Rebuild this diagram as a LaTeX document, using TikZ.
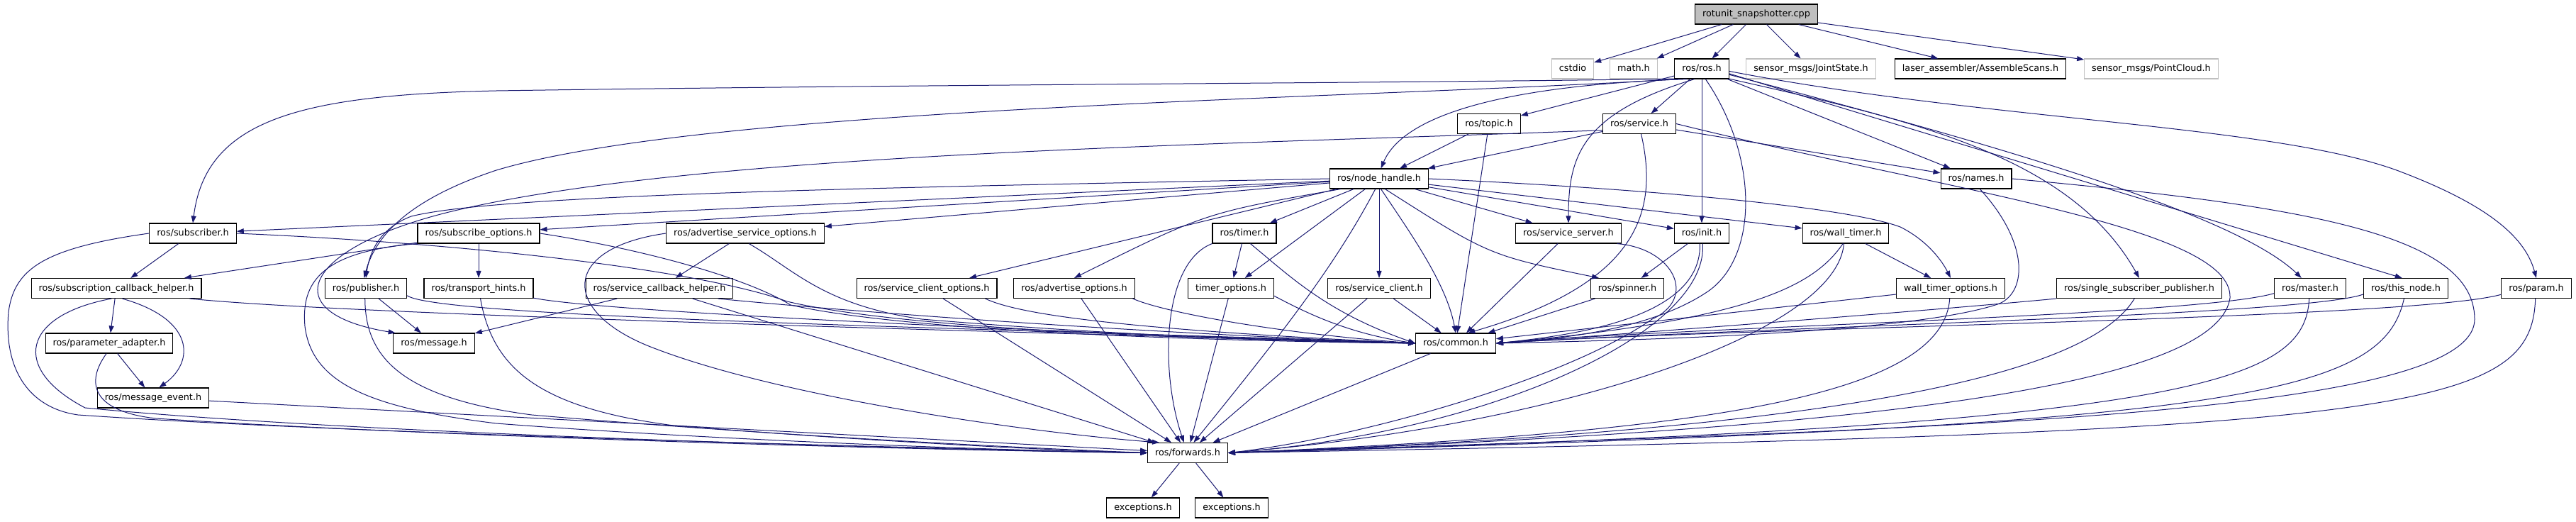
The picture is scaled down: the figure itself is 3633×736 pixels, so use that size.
\documentclass[tikz,border=0pt]{standalone}
\usepackage{fontspec}
\newfontfamily\dvfont{DejaVu Sans}
\usetikzlibrary{arrows.meta}
\definecolor{edgec}{HTML}{191970}
\definecolor{grayb}{HTML}{BFBFBF}
\newcommand{\dvf}{\dvfont\fontsize{12.8}{14}\selectfont}
\tikzset{
  nb/.style={draw=black, line width=1.1pt, fill=white, minimum height=28pt, inner xsep=10.5pt, inner ysep=0pt, text height=9.8pt, text depth=2.6pt, font=\dvf},
  gb/.style={nb, draw=grayb},
  rb/.style={nb, fill=grayb},
  e/.style={draw=edgec, line width=1pt, -{Triangle[length=10pt,width=7pt]}},
}
\begin{document}
\begin{tikzpicture}[x=1pt,y=-1pt]
\useasboundingbox (0,0) rectangle (3633,736);
% rank 0
\node[rb] (root) at (2477,20) {rotunit\_snapshotter.cpp};
% rank 1
\node[gb] (cstdio) at (2218,97) {cstdio};
\node[gb] (mathh) at (2304,97) {math.h};
\node[nb] (ros) at (2400,97) {ros/ros.h};
\node[gb] (joint) at (2554,97) {sensor\_msgs/JointState.h};
\node[nb] (laser) at (2793,97) {laser\_assembler/AssembleScans.h};
\node[gb] (pcl) at (3034,97) {sensor\_msgs/PointCloud.h};
% rank 2
\node[nb] (topic) at (2100,174.5) {ros/topic.h};
\node[nb] (service) at (2312,174.5) {ros/service.h};
% rank 3
\node[nb] (nh) at (1945,252) {ros/node\_handle.h};
\node[nb] (names) at (2787,252) {ros/names.h};
% rank 4
\node[nb] (subscriber) at (272,329) {ros/subscriber.h};
\node[nb] (subopt) at (675,329) {ros/subscribe\_options.h};
\node[nb] (advsrvopt) at (1051,329) {ros/advertise\_service\_options.h};
\node[nb] (timer) at (1755,329) {ros/timer.h};
\node[nb] (srvserver) at (2212,329) {ros/service\_server.h};
\node[nb] (init) at (2400,329) {ros/init.h};
\node[nb] (walltimer) at (2603,329) {ros/wall\_timer.h};
% rank 5
\node[nb] (schelper) at (164,406.5) {ros/subscription\_callback\_helper.h};
\node[nb] (publisher) at (516,406.5) {ros/publisher.h};
\node[nb] (transport) at (675,406.5) {ros/transport\_hints.h};
\node[nb] (srvcbhelper) at (930,406.5) {ros/service\_callback\_helper.h};
\node[nb] (srvclientopt) at (1307,406.5) {ros/service\_client\_options.h};
\node[nb] (advopt) at (1515,406.5) {ros/advertise\_options.h};
\node[nb] (timeropt) at (1736,406.5) {timer\_options.h};
\node[nb] (srvclient) at (1945,406.5) {ros/service\_client.h};
\node[nb] (spinner) at (2295,406.5) {ros/spinner.h};
\node[nb] (walltimeropt) at (2751,406.5) {wall\_timer\_options.h};
\node[nb] (ssp) at (3017,406.5) {ros/single\_subscriber\_publisher.h};
\node[nb] (master) at (3258,406.5) {ros/master.h};
\node[nb] (thisnode) at (3393,406.5) {ros/this\_node.h};
\node[nb] (param) at (3577,406.5) {ros/param.h};
% rank 6
\node[nb] (paramadapter) at (154,484) {ros/parameter\_adapter.h};
\node[nb] (message) at (612,484) {ros/message.h};
\node[nb] (common) at (2053,484) {ros/common.h};
% rank 7
\node[nb] (msgevent) at (216,561) {ros/message\_event.h};
% rank 8
\node[nb] (forwards) at (1675,638.5) {ros/forwards.h};
% rank 9
\node[nb] (exca) at (1612,716) {exceptions.h};
\node[nb] (excb) at (1737,716) {exceptions.h};

% ---- edges from root
\draw[e] (root) -- (cstdio);
\draw[e] (root) -- (mathh);
\draw[e] (root) -- (ros);
\draw[e] (root) -- (joint);
\draw[e] (root) -- (laser);
\draw[e] (root) -- (pcl);

% ---- ros/ros.h
\draw[e] (ros.200) .. controls (2000,117) and (1300,119) .. (700,128) .. controls (420,134) and (290,170) .. (subscriber.north);
\draw[e] (ros.205) .. controls (1900,140) and (1000,150) .. (700,240) .. controls (580,280) and (530,330) .. (publisher.100);
\draw[e] (ros.215) .. controls (2130,120) and (1980,160) .. (nh.80);
\draw[e] (ros) -- (topic);
\draw[e] (ros) -- (service);
\draw[e] (ros.235) .. controls (2230,160) and (2212,220) .. (srvserver.north);
\draw[e] (ros) -- (init);
\draw[e] (ros.-70) .. controls (2480,220) and (2480,360) .. (2410,410) .. controls (2330,465) and (2200,478) .. (common.east);
\draw[e] (ros) -- (names);
\draw[e] (ros.-20) .. controls (2700,170) and (2920,220) .. (ssp.north);
\draw[e] (ros.-12) .. controls (2800,200) and (3150,300) .. (master.130);
\draw[e] (ros.-10) -- (thisnode.110);
\draw[e] (ros.-5) .. controls (2800,170) and (3200,175) .. (3380,240) .. controls (3500,285) and (3560,330) .. (param.north);

% ---- topic
\draw[e] (topic) -- (nh);
\draw[e] (topic) -- (common);

% ---- service
\draw[e] (service) -- (nh);
\draw[e] (service) -- (names);
\draw[e] (service.-80) .. controls (2340,300) and (2310,400) .. (common.40);
\draw[e] (service.190) .. controls (1700,205) and (1000,215) .. (650,295) .. controls (430,345) and (380,440) .. (message.165);
\draw[e] (service.east) .. controls (2750,270) and (3150,320) .. (3145,420) .. controls (3125,560) and (2500,610) .. (forwards.east);

% ---- names
\draw[e] (names.-70) .. controls (2860,340) and (2860,410) .. (2820,428) .. controls (2700,470) and (2300,480) .. (common.east);
\draw[e] (names.east) .. controls (3250,290) and (3490,330) .. (3490,450) .. controls (3490,590) and (2700,605) .. (forwards.east);

% ---- node_handle
\draw[e] (nh) -- (subscriber);
\draw[e] (nh) -- (subopt);
\draw[e] (nh) -- (advsrvopt);
\draw[e] (nh.west) .. controls (1200,265) and (700,275) .. (580,305) .. controls (540,320) and (522,350) .. (publisher.north);
\draw[e] (nh) -- (srvclientopt);
\draw[e] (nh.195) .. controls (1700,300) .. (advopt.north);
\draw[e] (nh) -- (timer);
\draw[e] (nh) -- (timeropt);
\draw[e] (nh) -- (srvclient);
\draw[e] (nh.-80) .. controls (1990,330) and (2040,400) .. (common.north);
\draw[e] (nh) -- (srvserver);
\draw[e] (nh) -- (init);
\draw[e] (nh) -- (walltimer);
\draw[e] (nh.-60) .. controls (2100,360) .. (spinner.160);
\draw[e] (nh.east) .. controls (2300,265) and (2600,290) .. (2680,320) .. controls (2720,340) and (2740,370) .. (walltimeropt.north);
\draw[e] (nh.-110) .. controls (1880,380) and (1800,480) .. (forwards.60);

% ---- subscriber
\draw[e] (subscriber) -- (schelper);
\draw[e] (subscriber.east) .. controls (700,345) and (1000,385) .. (1110,425) .. controls (1300,470) and (1800,480) .. (common.west);
\draw[e] (subscriber.west) .. controls (60,350) and (20,380) .. (12,440) .. controls (5,520) and (40,575) .. (110,585) .. controls (500,612) and (1300,632) .. (forwards.west);

% ---- subscribe_options
\draw[e] (subopt) -- (schelper);
\draw[e] (subopt) -- (transport);
\draw[e] (subopt.east) .. controls (900,350) and (1050,390) .. (1115,430) .. controls (1300,472) and (1800,482) .. (common.west);
\draw[e] (subopt.south west) .. controls (450,355) and (425,400) .. (430,460) .. controls (440,540) and (520,575) .. (700,597) .. controls (1000,620) and (1400,635) .. (forwards.west);

% ---- advertise_service_options
\draw[e] (advsrvopt) -- (srvcbhelper);
\draw[e] (advsrvopt.-70) .. controls (1120,380) and (1160,430) .. (1300,450) .. controls (1600,475) and (1850,482) .. (common.west);
\draw[e] (advsrvopt.west) .. controls (790,350) and (790,440) .. (920,490) .. controls (1100,560) and (1450,610) .. (forwards.160);

% ---- rank 5 left
\draw[e] (schelper) -- (paramadapter);
\draw[e] (schelper.-60) .. controls (275,450) and (275,510) .. (msgevent.60);
\draw[e] (schelper.-8) .. controls (500,445) and (1500,470) .. (common.west);
\draw[e] (schelper.-115) .. controls (30,445) and (15,520) .. (120,575) .. controls (500,612) and (1300,634) .. (forwards.west);
\draw[e] (paramadapter) -- (msgevent);
\draw[e] (paramadapter.-105) .. controls (120,540) and (130,580) .. (220,590) .. controls (600,615) and (1300,635) .. (forwards.west);
\draw[e] (msgevent) -- (forwards);

\draw[e] (publisher) -- (message);
\draw[e] (publisher.-10) .. controls (620,450) and (1500,465) .. (common.west);
\draw[e] (publisher.-95) .. controls (515,500) and (560,560) .. (750,585) .. controls (1100,615) and (1450,632) .. (forwards.west);

\draw[e] (transport.-10) .. controls (850,440) and (1500,470) .. (common.west);
\draw[e] (transport.-80) .. controls (695,520) and (760,575) .. (950,600) .. controls (1200,620) and (1450,634) .. (forwards.west);

\draw[e] (srvcbhelper) -- (message);
\draw[e] (srvcbhelper.-10) .. controls (1100,430) and (1500,465) .. (common.west);
\draw[e] (srvcbhelper) -- (forwards);

\draw[e] (srvclientopt.-10) .. controls (1440,445) and (1600,465) .. (common.west);
\draw[e] (srvclientopt) -- (forwards);
\draw[e] (advopt.-10) .. controls (1640,440) and (1800,470) .. (common.west);
\draw[e] (advopt) -- (forwards);

% ---- timer
\draw[e] (timer) -- (timeropt);
\draw[e] (timer.-60) .. controls (1820,390) and (1870,440) .. (common.west);
\draw[e] (timer.south west) .. controls (1640,370) and (1635,520) .. (forwards.110);
\draw[e] (timeropt.-10) .. controls (1840,440) and (1900,470) .. (common.west);
\draw[e] (timeropt) -- (forwards);
\draw[e] (srvclient) -- (common);
\draw[e] (srvclient) -- (forwards);

% ---- service_server, init, spinner
\draw[e] (srvserver) -- (common);
\draw[e] (srvserver.-12) .. controls (2360,350) and (2395,420) .. (2330,450) .. controls (2200,540) and (1900,620) .. (forwards.east);
\draw[e] (init) -- (spinner);
\draw[e] (init.-100) .. controls (2400,440) and (2250,470) .. (common.east);
\draw[e] (init.-85) .. controls (2410,470) and (2100,610) .. (forwards.east);
\draw[e] (spinner) -- (common);

% ---- wall timer
\draw[e] (walltimer) -- (walltimeropt);
\draw[e] (walltimer.-105) .. controls (2560,400) and (2480,450) .. (common.east);
\draw[e] (walltimer.-100) .. controls (2590,470) and (2200,600) .. (forwards.east);
\draw[e] (walltimeropt) -- (common);
\draw[e] (walltimeropt.-95) .. controls (2740,560) and (2400,610) .. (forwards.east);

% ---- right rank 5
\draw[e] (ssp.south west) .. controls (2700,440) and (2300,470) .. (common.east);
\draw[e] (ssp.-115) .. controls (2950,520) and (2650,605) .. (forwards.east);
\draw[e] (master.-172) .. controls (3100,445) and (2400,460) .. (common.east);
\draw[e] (master.-95) .. controls (3250,540) and (3100,600) .. (forwards.east);
\draw[e] (thisnode.-172) .. controls (3250,445) and (2500,460) .. (common.east);
\draw[e] (thisnode.-100) .. controls (3360,560) and (3150,600) .. (forwards.east);
\draw[e] (param.-170) .. controls (3400,450) and (2500,460) .. (common.east);
\draw[e] (param.-95) .. controls (3570,580) and (3400,610) .. (forwards.east);

% ---- common, forwards
\draw[e] (common) -- (forwards);
\draw[e] (forwards) -- (exca);
\draw[e] (forwards) -- (excb);
\end{tikzpicture}
\end{document}
